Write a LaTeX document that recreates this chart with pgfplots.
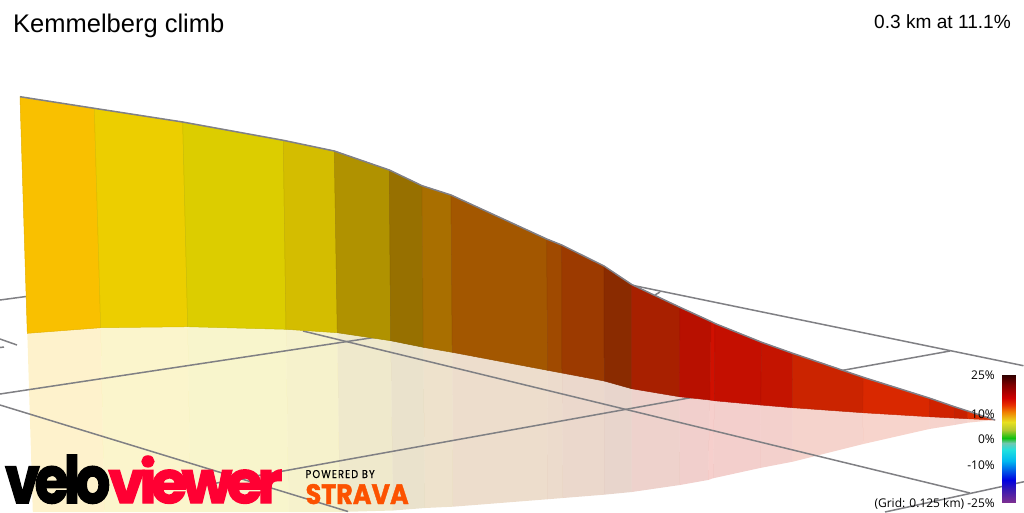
\documentclass[border=0pt]{standalone}
\usepackage{pgfplots}
\pgfplotsset{compat=1.18}
\usepackage{fontspec}
\setmainfont{Liberation Sans}
\newfontfamily\labelfont{Open Sans}
\newfontfamily\logofont[LetterSpace=-9,FakeBold=2.5]{Poppins Bold}
\newfontfamily\stravafont[FakeBold=1.5]{Poppins Bold}
\newfontfamily\powfont[LetterSpace=12,FakeBold=0.5]{Poppins}
\definecolor{gridc}{HTML}{808084}
\definecolor{ridge}{HTML}{808088}
\definecolor{c0}{HTML}{F9C000}
\definecolor{c1}{HTML}{ECCE00}
\definecolor{c2}{HTML}{DCCD00}
\definecolor{c3}{HTML}{D4BD00}
\definecolor{c4}{HTML}{B09200}
\definecolor{c5}{HTML}{977000}
\definecolor{c6}{HTML}{A96F00}
\definecolor{c7}{HTML}{A35700}
\definecolor{c8}{HTML}{A04A00}
\definecolor{c9}{HTML}{9C3A00}
\definecolor{c10}{HTML}{8A2B00}
\definecolor{c11}{HTML}{A82000}
\definecolor{c12}{HTML}{B81000}
\definecolor{c13}{HTML}{D01000}
\definecolor{c14}{HTML}{C40F00}
\definecolor{c15}{HTML}{C41400}
\definecolor{c16}{HTML}{CB2400}
\definecolor{c17}{HTML}{D92800}
\definecolor{c18}{HTML}{D02200}
\definecolor{c19}{HTML}{C82000}
\definecolor{c20}{HTML}{DD2C00}
\newcommand{\wall}[2]{\addplot[fill=#1,draw=#1!92!black,line width=0.5pt,line join=round] coordinates {#2} -- cycle;}
\newcommand{\refl}[2]{\addplot[fill=#1,fill opacity=0.2,draw=none] coordinates {#2} -- cycle;}
\newcommand{\gridl}[1]{\addplot[gridc,line width=1.5pt] coordinates {#1};}
\begin{document}
\begin{tikzpicture}
\useasboundingbox (0,0) rectangle (1024pt,512pt);
\begin{axis}[
  at={(0,0)}, anchor=south west,
  scale only axis, width=1024pt, height=512pt,
  xmin=0, xmax=1024, ymin=0, ymax=512, y dir=reverse,
  hide axis, no markers,
  colormap={vv}{
    rgb255(0pt)=(128,48,144);
    rgb255(12.7pt)=(58,26,176);
    rgb255(22.7pt)=(0,0,224);
    rgb255(32.7pt)=(0,96,232);
    rgb255(41.7pt)=(0,184,240);
    rgb255(52.7pt)=(32,224,224);
    rgb255(59.7pt)=(112,200,176);
    rgb255(64.7pt)=(16,192,16);
    rgb255(72.7pt)=(176,200,48);
    rgb255(81pt)=(232,224,32);
    rgb255(90.7pt)=(240,128,0);
    rgb255(97.7pt)=(232,48,0);
    rgb255(104.7pt)=(208,0,0);
    rgb255(117.7pt)=(128,0,0);
    rgb255(127.7pt)=(48,0,0)
  },
  point meta min=0, point meta max=127.7,
]
% reflection
\refl{c0}{(27.3,333.3)(100.7,327.7)(104.3,512)(32.8,512)}
\refl{c1}{(100.7,327.7)(187.7,326.7)(190.7,512)(104.3,512)}
\refl{c2}{(187.7,326.7)(286,329.3)(288.7,512)(190.7,512)}
\refl{c3}{(286,329.3)(337.3,332.7)(339.9,512)(288.7,512)}
\refl{c4}{(337.3,332.7)(390.7,340.7)(393,510.5)(339.9,512)}
\refl{c5}{(390.7,340.7)(423.3,347.3)(425,508)(393,510.5)}
\refl{c6}{(423.3,347.3)(452.3,352.3)(453,506.7)(425,508)}
\refl{c7}{(452.3,352.3)(547.7,370.3)(547,499.3)(453,506.7)}
\refl{c8}{(547.7,370.3)(562,373)(563,498)(547,499.3)}
\refl{c9}{(562,373)(604.3,381)(604,494.7)(563,498)}
\refl{c10}{(604.3,381)(631.7,388.7)(631.7,492)(604,494.7)}
\refl{c11}{(631.7,388.7)(679.3,396.7)(680,485)(631.7,492)}
\refl{c12}{(679.3,396.7)(710,400)(708,480)(680,485)}
\refl{c13}{(710,400)(714.3,400.7)(713,478.3)(708,480)}
\refl{c14}{(714.3,400.7)(760.7,405)(760,468)(713,478.3)}
\refl{c15}{(760.7,405)(792.7,407.7)(792.7,461.7)(760,468)}
\refl{c16}{(792.7,407.7)(862.7,412.7)(863.3,444)(792.7,461.7)}
\refl{c17}{(862.7,412.7)(929.3,416.7)(929.3,429)(863.3,444)}
\refl{c18}{(929.3,416.7)(954.3,418)(954.3,425)(929.3,429)}
\refl{c19}{(954.3,418)(967.7,418.7)(967.7,422.7)(954.3,425)}
\refl{c20}{(967.7,418.7)(995,420)(967.7,422.7)}
% ground grid
\gridl{(0,300)(26,296.5)}
\gridl{(0,339)(17,345)}
\gridl{(0,347.5)(4,347)}
\gridl{(0,394)(377,337)}
\gridl{(0,405)(348,511.5)}
\gridl{(200,486)(950,351)}
\gridl{(303,331)(970,493)}
\gridl{(885,512)(1024,481.7)}
\gridl{(631,285)(1023.5,365.7)}
\gridl{(655,295)(660,292)}
% walls
\wall{c0}{(20,96.7)(94.3,108.3)(100.7,327.7)(27.3,333.3)}
\wall{c1}{(94.3,108.3)(182.7,122)(187.7,326.7)(100.7,327.7)}
\wall{c2}{(182.7,122)(283.3,140.3)(286,329.3)(187.7,326.7)}
\wall{c3}{(283.3,140.3)(334.3,151)(337.3,332.7)(286,329.3)}
\wall{c4}{(334.3,151)(389.3,170)(390.7,340.7)(337.3,332.7)}
\wall{c5}{(389.3,170)(422,185.7)(423.3,347.3)(390.7,340.7)}
\wall{c6}{(422,185.7)(451,195)(452.3,352.3)(423.3,347.3)}
\wall{c7}{(451,195)(546.7,239)(547.7,370.3)(452.3,352.3)}
\wall{c8}{(546.7,239)(561.7,245)(562,373)(547.7,370.3)}
\wall{c9}{(561.7,245)(604,266)(604.3,381)(562,373)}
\wall{c10}{(604,266)(631.7,284.5)(631.7,388.7)(604.3,381)}
\wall{c11}{(631.7,284.5)(680,307.3)(679.3,396.7)(631.7,388.7)}
\wall{c12}{(680,307.3)(711,321.5)(710,400)(679.3,396.7)}
\wall{c13}{(711,321.5)(715,323.5)(714.3,400.7)(710,400)}
\wall{c14}{(715,323.5)(761.7,342.3)(760.7,405)(714.3,400.7)}
\wall{c15}{(761.7,342.3)(792.7,353.3)(792.7,407.7)(760.7,405)}
\wall{c16}{(792.7,353.3)(863.3,377.3)(862.7,412.7)(792.7,407.7)}
\wall{c17}{(863.3,377.3)(930,398.3)(929.3,416.7)(862.7,412.7)}
\wall{c18}{(930,398.3)(954.3,406.7)(954.3,418)(929.3,416.7)}
\wall{c19}{(954.3,406.7)(967.7,411)(967.7,418.7)(954.3,418)}
\wall{c20}{(967.7,411)(995,420)(967.7,418.7)}
% ridge line
\addplot[ridge,line width=1.5pt,line join=round] coordinates {(20,96.7)(94.3,108.3)(182.7,122)(283.3,140.3)(334.3,151)(389.3,170)(422,185.7)(451,195)(546.7,239)(561.7,245)(604,266)(631.7,284.5)(680,307.3)(711,321.5)(715,323.5)(761.7,342.3)(792.7,353.3)(863.3,377.3)(930,398.3)(954.3,406.7)(967.7,411)(995,420)};
% colour scale
\addplot[surf,shader=interp,mesh/cols=2,point meta=\thisrow{m}] table {
x y m
1002.3 502.7 0
1015 502.7 0
1002.3 490 12.7
1015 490 12.7
1002.3 480 22.7
1015 480 22.7
1002.3 470 32.7
1015 470 32.7
1002.3 461 41.7
1015 461 41.7
1002.3 450 52.7
1015 450 52.7
1002.3 443 59.7
1015 443 59.7
1002.3 438 64.7
1015 438 64.7
1002.3 430 72.7
1015 430 72.7
1002.3 421.7 81
1015 421.7 81
1002.3 412 90.7
1015 412 90.7
1002.3 405 97.7
1015 405 97.7
1002.3 398 104.7
1015 398 104.7
1002.3 385 117.7
1015 385 117.7
1002.3 375 127.7
1015 375 127.7
};
% text
\node[anchor=base west,inner sep=0,font=\fontsize{25.5}{26}\selectfont] at (axis cs:13,32) {Kemmelberg climb};
\node[anchor=base east,inner sep=0,font=\fontsize{19.1}{20}\selectfont] at (axis cs:1011,28) {0.3 km at 11.1\%};
\node[anchor=base east,inner sep=0,font=\labelfont\fontsize{12}{14}\selectfont] at (axis cs:995,379) {25\%};
\node[anchor=base east,inner sep=0,font=\labelfont\fontsize{12}{14}\selectfont] at (axis cs:995,418.5) {10\%};
\node[anchor=base east,inner sep=0,font=\labelfont\fontsize{12}{14}\selectfont] at (axis cs:995,443) {0\%};
\node[anchor=base east,inner sep=0,font=\labelfont\fontsize{12}{14}\selectfont] at (axis cs:995,469) {-10\%};
\node[anchor=base east,inner sep=0,font=\labelfont\fontsize{12}{14}\selectfont] at (axis cs:995,507) {(Grid: 0.125 km) -25\%};
% logo
\node[anchor=base west,inner sep=0] at (axis cs:5,503) {\resizebox{105pt}{48pt}{\logofont velo}};
\node[anchor=base west,inner sep=0] at (axis cs:108,503) {\resizebox{174pt}{47pt}{\color[HTML]{FF0033}\logofont viewer}};
\node[anchor=base west,inner sep=0] at (axis cs:305.5,478) {\resizebox{69pt}{8pt}{\powfont POWERED BY}};
\node[anchor=base west,inner sep=0] at (axis cs:305.5,504) {\resizebox{103pt}{20pt}{\color[HTML]{FC5200}\stravafont STRAVA}};
\end{axis}
\end{tikzpicture}
\end{document}
